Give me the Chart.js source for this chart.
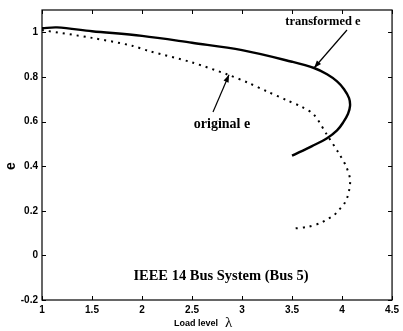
<!DOCTYPE html>
<html>
<head>
<meta charset="utf-8">
<script src="https://cdn.jsdelivr.net/npm/chart.js@4.4.0/dist/chart.umd.min.js"></script>
<style>
  html, body { margin: 0; padding: 0; background: #fff; }
  #wrap { width: 403px; height: 331px; position: relative; }
</style>
</head>
<body>
<div id="wrap"><canvas id="myChart" width="403" height="331"></canvas></div>
<script>
// valeurs (lambda, e)
var transLambda = [1.0, 1.15, 1.5, 2.0, 2.5, 3.0, 3.5, 3.72, 3.85, 3.95, 4.02, 4.07, 4.08, 4.06, 4.01, 3.95, 3.85, 3.7, 3.5];
var transE      = [1.018, 1.022, 1.005, 0.984, 0.953, 0.92, 0.868, 0.84, 0.812, 0.78, 0.745, 0.705, 0.67, 0.635, 0.595, 0.56, 0.525, 0.49, 0.447];

var origLambda = [1.0, 1.5, 1.9, 2.07, 2.5, 2.86, 3.06, 3.25, 3.45, 3.6, 3.72, 3.85, 3.97, 4.04, 4.08, 4.08, 4.07, 4.05, 4.02, 3.97, 3.92, 3.86, 3.79, 3.66, 3.51];
var origE      = [1.01, 0.975, 0.94, 0.916, 0.865, 0.81, 0.774, 0.735, 0.695, 0.665, 0.63, 0.54, 0.456, 0.40, 0.345, 0.32, 0.29, 0.257, 0.23, 0.204, 0.18, 0.164, 0.146, 0.128, 0.12];

var xTicks = [1, 1.5, 2, 2.5, 3, 3.5, 4, 4.5];
var yTicks = [-0.2, 0, 0.2, 0.4, 0.6, 0.8, 1];

function toPoints(xs, ys) {
  var pts = [];
  for (var i = 0; i < xs.length; i++) pts.push({ x: xs[i], y: ys[i] });
  return pts;
}

function fmt(v) { return String(Math.round(v * 10) / 10); }

// cadre, graduations intérieures et annotations
var decor = {
  id: "decor",
  afterDraw: function (chart) {
    var ctx = chart.ctx, a = chart.chartArea;
    var sx = chart.scales.x, sy = chart.scales.y;
    ctx.save();
    ctx.strokeStyle = "#000";
    ctx.lineWidth = 1.2;
    ctx.strokeRect(a.left, a.top, a.right - a.left, a.bottom - a.top);
    ctx.lineWidth = 1;
    xTicks.forEach(function (v) {
      var px = Math.round(sx.getPixelForValue(v)) + 0.5;
      ctx.beginPath();
      ctx.moveTo(px, a.bottom); ctx.lineTo(px, a.bottom - 4);
      ctx.moveTo(px, a.top); ctx.lineTo(px, a.top + 4);
      ctx.stroke();
    });
    yTicks.forEach(function (v) {
      var py = Math.round(sy.getPixelForValue(v)) + 0.5;
      ctx.beginPath();
      ctx.moveTo(a.left, py); ctx.lineTo(a.left + 4, py);
      ctx.moveTo(a.right, py); ctx.lineTo(a.right - 4, py);
      ctx.stroke();
    });

    // titres des axes
    ctx.fillStyle = "#000";
    ctx.textBaseline = "alphabetic";
    ctx.textAlign = "left";
    ctx.font = "bold 9px 'Liberation Sans', Arial, sans-serif";
    ctx.fillText("Load level", 174, 326);
    ctx.font = "15px 'Liberation Serif', serif";
    ctx.fillText("\u03bb", 225, 327);
    ctx.save();
    ctx.translate(15, 166);
    ctx.rotate(-Math.PI / 2);
    ctx.textAlign = "center";
    ctx.font = "bold 14px 'Liberation Sans', Arial, sans-serif";
    ctx.fillText("e", 0, 0);
    ctx.restore();

    // annotations
    ctx.textAlign = "center";
    ctx.font = "bold 12.5px 'Liberation Serif', 'Times New Roman', serif";
    ctx.fillText("transformed e", 323, 25);
    ctx.font = "bold 14px 'Liberation Serif', 'Times New Roman', serif";
    ctx.fillText("original e", 222, 128);
    ctx.font = "bold 14.5px 'Liberation Serif', 'Times New Roman', serif";
    ctx.fillText("IEEE 14 Bus System (Bus 5)", 221, 280);

    drawArrow(ctx, 347, 30, sx.getPixelForValue(3.72), sy.getPixelForValue(0.84));
    drawArrow(ctx, 213, 112, sx.getPixelForValue(2.87), sy.getPixelForValue(0.81));
    ctx.restore();
  }
};

function drawArrow(ctx, x0, y0, x1, y1) {
  var ang = Math.atan2(y1 - y0, x1 - x0);
  ctx.lineWidth = 1.2;
  ctx.beginPath();
  ctx.moveTo(x0, y0); ctx.lineTo(x1, y1);
  ctx.stroke();
  ctx.beginPath();
  ctx.moveTo(x1, y1);
  ctx.lineTo(x1 - 8 * Math.cos(ang - 0.35), y1 - 8 * Math.sin(ang - 0.35));
  ctx.lineTo(x1 - 8 * Math.cos(ang + 0.35), y1 - 8 * Math.sin(ang + 0.35));
  ctx.closePath();
  ctx.fill();
}

var ctx = document.getElementById("myChart").getContext("2d");
var myChart = new Chart(ctx, {
  type: "scatter",
  data: {
    datasets: [
      {
        label: "transformed e",
        data: toPoints(transLambda, transE),
        showLine: true,
        borderColor: "#000",
        borderWidth: 2.4,
        pointRadius: 0,
        tension: 0.35
      },
      {
        label: "original e",
        data: toPoints(origLambda, origE),
        showLine: true,
        borderColor: "#000",
        borderWidth: 2,
        borderDash: [2, 5],
        pointRadius: 0,
        tension: 0.3
      }
    ]
  },
  options: {
    responsive: false,
    animation: false,
    layout: { padding: { left: 0, top: 6, right: 7, bottom: 0 } },
    plugins: { legend: { display: false }, tooltip: { enabled: false } },
    scales: {
      x: {
        type: "linear",
        min: 1,
        max: 4.5,
        grid: { display: false, drawTicks: false },
        border: { display: false },
        afterBuildTicks: function (s) { s.ticks = xTicks.map(function (v) { return { value: v }; }); },
        afterFit: function (s) { s.height = 31; },
        ticks: {
          color: "#000",
          padding: 4,
          maxRotation: 0,
          font: { family: "'Liberation Sans', Arial, sans-serif", size: 10, weight: "bold" },
          callback: fmt
        }
      },
      y: {
        type: "linear",
        min: -0.2,
        max: 1.1,
        grid: { display: false, drawTicks: false },
        border: { display: false },
        afterBuildTicks: function (s) { s.ticks = yTicks.map(function (v) { return { value: v }; }); },
        afterFit: function (s) { s.width = 42; },
        ticks: {
          color: "#000",
          padding: 4,
          font: { family: "'Liberation Sans', Arial, sans-serif", size: 10, weight: "bold" },
          callback: fmt
        }
      }
    }
  },
  plugins: [decor]
});
</script>
</body>
</html>
